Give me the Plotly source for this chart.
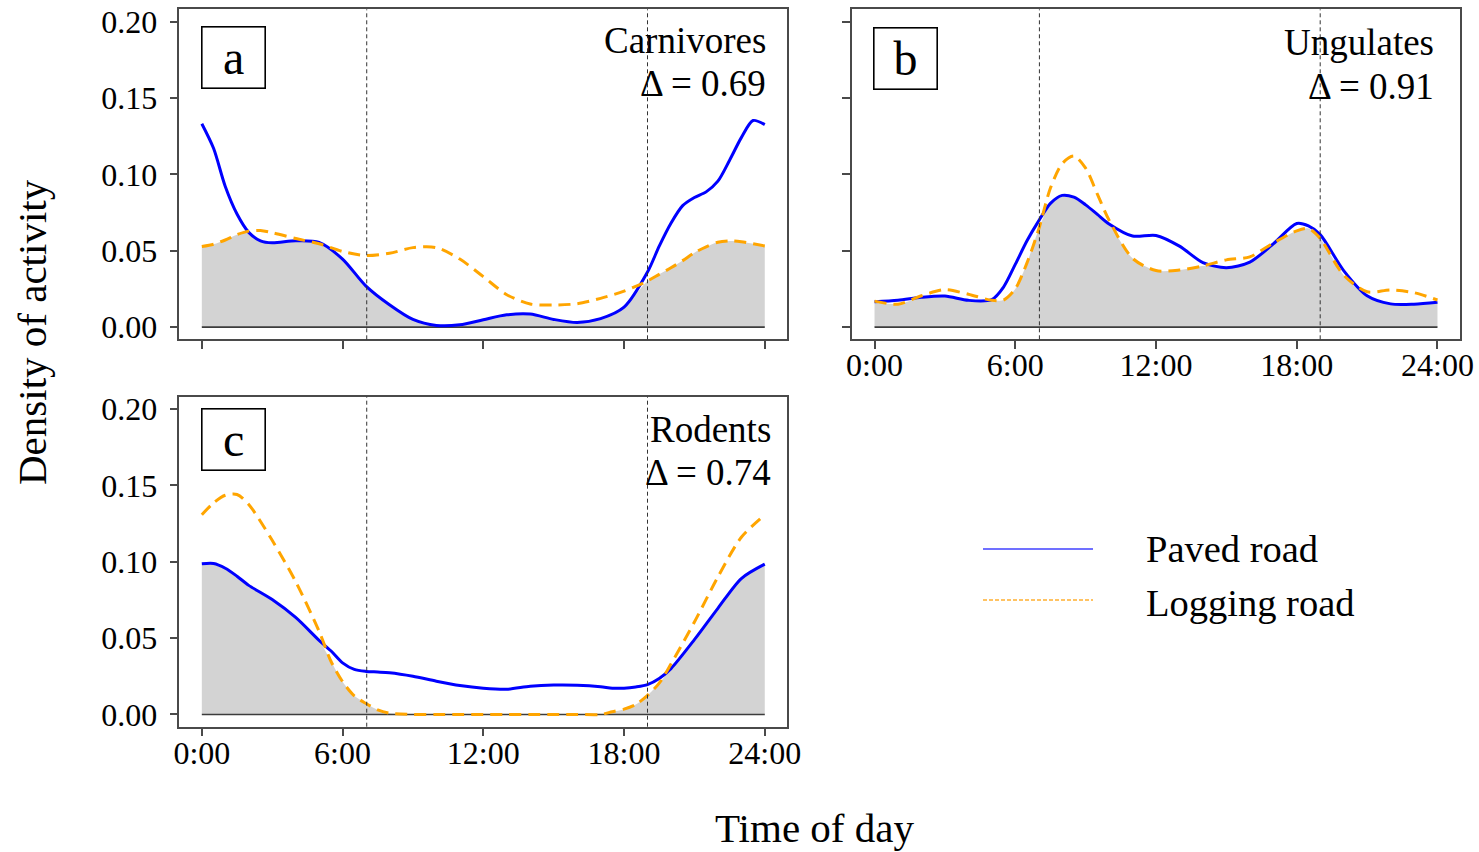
import numpy as np
import plotly.graph_objects as go

# ---------------- data ----------------
hours_a = [0, 0.5, 1, 1.5, 2, 2.5, 3, 4, 5, 6, 7, 8, 9, 10, 11, 12, 13, 14, 15, 16,
           17, 18, 19, 19.5, 20, 20.5, 21, 21.5, 22, 22.5, 23, 23.5, 24]
paved_a = [0.1331, 0.1170, 0.0920, 0.0740, 0.0620, 0.0565, 0.0552, 0.0565, 0.0555, 0.0445,
           0.0268, 0.0146, 0.0050, 0.0011, 0.0015, 0.0048, 0.0080, 0.0085, 0.0050, 0.0030,
           0.0055, 0.0130, 0.0360, 0.0530, 0.0680, 0.0795, 0.0848, 0.0885, 0.0955, 0.1092,
           0.1240, 0.1352, 0.1325]
logging_a = [0.0527, 0.0542, 0.0570, 0.0605, 0.0628, 0.0632, 0.0618, 0.0580, 0.0545, 0.0495,
             0.0468, 0.0483, 0.0520, 0.0520, 0.0445, 0.0330, 0.0212, 0.0151, 0.0144, 0.0153,
             0.0188, 0.0235, 0.0302, 0.0345, 0.0388, 0.0435, 0.0487, 0.0525, 0.0555, 0.0564,
             0.0558, 0.0545, 0.0531]

hours_b = [0, 1, 2, 3, 4, 5, 5.5, 6, 6.5, 7, 7.5, 8, 8.5, 9, 9.5, 10, 11, 12, 13, 14,
           15, 16, 17, 18, 18.5, 19, 20, 21, 22, 23, 24]
paved_b = [0.0166, 0.0175, 0.0195, 0.0203, 0.0175, 0.0180, 0.0262, 0.0410, 0.0565, 0.0695,
           0.0810, 0.0862, 0.0850, 0.0800, 0.0738, 0.0675, 0.0596, 0.0600, 0.0530, 0.0422,
           0.0389, 0.0425, 0.0545, 0.0678, 0.0662, 0.0605, 0.0370, 0.0205, 0.0152, 0.0150, 0.0162]
logging_b = [0.0170, 0.0150, 0.0205, 0.0245, 0.0215, 0.0175, 0.0177, 0.0250, 0.0420, 0.0640,
             0.0910, 0.1070, 0.1120, 0.1040, 0.0870, 0.0700, 0.0450, 0.0370, 0.0373, 0.0400,
             0.0440, 0.0460, 0.0550, 0.0630, 0.0645, 0.0580, 0.0340, 0.0231, 0.0243, 0.0225, 0.0177]

hours_c = [0, 0.5, 1, 1.5, 2, 3, 4, 5, 5.5, 6, 6.5, 7, 7.5, 8, 9, 10, 11, 12, 13, 14,
           15, 16, 17, 17.5, 18, 18.5, 19, 19.5, 20, 21, 22, 23, 24]
paved_c = [0.0986, 0.0988, 0.0957, 0.0905, 0.0845, 0.0752, 0.0635, 0.0485, 0.0417, 0.0338,
           0.0295, 0.0282, 0.0278, 0.0273, 0.0250, 0.0218, 0.0190, 0.0172, 0.0165, 0.0185,
           0.0193, 0.0192, 0.0182, 0.0172, 0.0172, 0.0180, 0.0195, 0.0235, 0.0300, 0.0490,
           0.0695, 0.0890, 0.0984]
logging_c = [0.1307, 0.1385, 0.1435, 0.1440, 0.1375, 0.1140, 0.0870, 0.0545, 0.0350, 0.0215,
             0.0122, 0.0072, 0.0030, 0.0008, 0.0, 0.0, 0.0, 0.0, 0.0, 0.0,
             0.0, 0.0, 0.0, 0.0018, 0.0035, 0.0065, 0.0125, 0.0205, 0.0330, 0.0605,
             0.0900, 0.1160, 0.1307]

panel_letters = ["a", "b", "c"]
group_names = ["Carnivores", "Ungulates", "Rodents"]
overlap_deltas = ["0.69", "0.91", "0.74"]
sunrise_sunset = [7.03, 19.0]

x_tickvals = [0, 6, 12, 18, 24]
x_ticktext = ["0:00", "6:00", "12:00", "18:00", "24:00"]
y_tickvals = [0, 0.05, 0.10, 0.15, 0.20]
y_ticktext = ["0.00", "0.05", "0.10", "0.15", "0.20"]
legend_labels = ["Paved road", "Logging road"]

# ---------------- layout helpers ----------------
W, H = 1479, 852
FONT = "Liberation Serif"
BLUE = "#0000FF"
ORANGE = "#FFA500"
FRAME = "#4a4a4a"


def px(x):
    return x / W


def py(y):
    return 1 - y / H


panels = [
    dict(hours=hours_a, paved=paved_a, logging=logging_a,
         xdom=(179.3, 787.3), ydom=(9.3, 339.3), xlabels=False, ylabels=True,
         box=(233.7, 58.0), title=(768, 40, 84)),
    dict(hours=hours_b, paved=paved_b, logging=logging_b,
         xdom=(852.0, 1460.0), ydom=(9.3, 339.3), xlabels=True, ylabels=False,
         box=(905.8, 58.7), title=(1436, 42, 87)),
    dict(hours=hours_c, paved=paved_c, logging=logging_c,
         xdom=(179.3, 787.3), ydom=(396.7, 726.7), xlabels=True, ylabels=True,
         box=(233.7, 439.7), title=(773, 429, 473)),
]

fig = go.Figure()
annotations = []
shapes = []

for i, p in enumerate(panels):
    n = "" if i == 0 else str(i + 1)
    xa, ya = "x" + n, "y" + n
    hrs = np.array(p["hours"])
    pav = np.array(p["paved"])
    log = np.array(p["logging"])
    ov = np.minimum(pav, log)

    fig.add_trace(go.Scatter(x=hrs, y=ov, mode="lines", fill="tozeroy",
                             fillcolor="#D3D3D3", line=dict(width=0, shape="spline", smoothing=0.8),
                             xaxis=xa, yaxis=ya, showlegend=False, hoverinfo="skip"))
    fig.add_trace(go.Scatter(x=[hrs.min(), hrs.max()], y=[0, 0], mode="lines",
                             line=dict(color="#3c3c3c", width=1.6),
                             xaxis=xa, yaxis=ya, showlegend=False, hoverinfo="skip"))
    fig.add_trace(go.Scatter(x=hrs, y=pav, mode="lines", name=legend_labels[0],
                             line=dict(color=BLUE, width=3, shape="spline", smoothing=0.8),
                             xaxis=xa, yaxis=ya, showlegend=False))
    fig.add_trace(go.Scatter(x=hrs, y=log, mode="lines", name=legend_labels[1],
                             line=dict(color=ORANGE, width=3, shape="spline", smoothing=0.8,
                                       dash="12px,7px"),
                             xaxis=xa, yaxis=ya, showlegend=False))

    for t in sunrise_sunset:
        shapes.append(dict(type="line", xref=xa, yref=ya + " domain", x0=t, x1=t, y0=0, y1=1,
                           line=dict(color="#333333", width=1, dash="4px,3px"), layer="above"))

    axis_common = dict(showline=True, linecolor=FRAME, linewidth=1.5, mirror=True,
                       ticks="outside", ticklen=8, tickwidth=1.5, tickcolor=FRAME,
                       showgrid=False, zeroline=False, automargin=False,
                       tickfont=dict(family=FONT, size=32, color="black"))
    fig.layout["xaxis" + n] = dict(axis_common, domain=[px(p["xdom"][0]), px(p["xdom"][1])],
                                   range=[-0.96, 24.96], tickvals=x_tickvals, ticktext=x_ticktext,
                                   showticklabels=p["xlabels"], anchor=ya, ticklabelstandoff=-11)
    fig.layout["yaxis" + n] = dict(axis_common, domain=[py(p["ydom"][1]), py(p["ydom"][0])],
                                   range=[-0.008, 0.208], tickvals=y_tickvals, ticktext=y_ticktext,
                                   showticklabels=p["ylabels"], anchor=xa, ticklabelstandoff=6)

    bx, by = p["box"]
    annotations.append(dict(text=panel_letters[i], x=px(bx), y=py(by), xref="paper", yref="paper",
                            showarrow=False, xanchor="center", yanchor="middle",
                            width=62, height=60, borderpad=0, bordercolor="black", borderwidth=1.6,
                            bgcolor="white", font=dict(family=FONT, size=48, color="black")))
    tx, ty1, ty2 = p["title"]
    annotations.append(dict(text=group_names[i], x=px(tx), y=py(ty1), xref="paper", yref="paper",
                            showarrow=False, xanchor="right", yanchor="middle",
                            font=dict(family=FONT, size=37, color="black")))
    annotations.append(dict(text="\u0394 = " + overlap_deltas[i], x=px(tx), y=py(ty2),
                            xref="paper", yref="paper",
                            showarrow=False, xanchor="right", yanchor="middle",
                            font=dict(family=FONT, size=37, color="black")))

# axis titles
annotations.append(dict(text="Density of activity", x=px(32), y=py(332), xref="paper", yref="paper",
                        showarrow=False, textangle=-90, xanchor="center", yanchor="middle",
                        font=dict(family=FONT, size=41, color="black")))
annotations.append(dict(text="Time of day", x=px(814), y=py(828), xref="paper", yref="paper",
                        showarrow=False, xanchor="center", yanchor="middle",
                        font=dict(family=FONT, size=41, color="black")))

# legend (drawn manually)
shapes.append(dict(type="line", xref="paper", yref="paper", x0=px(983), x1=px(1093),
                   y0=py(549), y1=py(549), line=dict(color="#4040FF", width=1.3)))
shapes.append(dict(type="line", xref="paper", yref="paper", x0=px(983), x1=px(1093),
                   y0=py(600), y1=py(600), line=dict(color="#FFB030", width=1.3, dash="4px,2px")))
annotations.append(dict(text=legend_labels[0], x=px(1144), y=py(549), xref="paper", yref="paper",
                        showarrow=False, xanchor="left", yanchor="middle",
                        font=dict(family=FONT, size=38.5, color="black")))
annotations.append(dict(text=legend_labels[1], x=px(1144), y=py(603), xref="paper", yref="paper",
                        showarrow=False, xanchor="left", yanchor="middle",
                        font=dict(family=FONT, size=38.5, color="black")))

fig.update_layout(width=W, height=H, margin=dict(l=0, r=0, t=0, b=0),
                  paper_bgcolor="white", plot_bgcolor="white",
                  annotations=annotations, shapes=shapes, showlegend=False,
                  font=dict(family=FONT, color="black"))

fig.write_html("out.html")
